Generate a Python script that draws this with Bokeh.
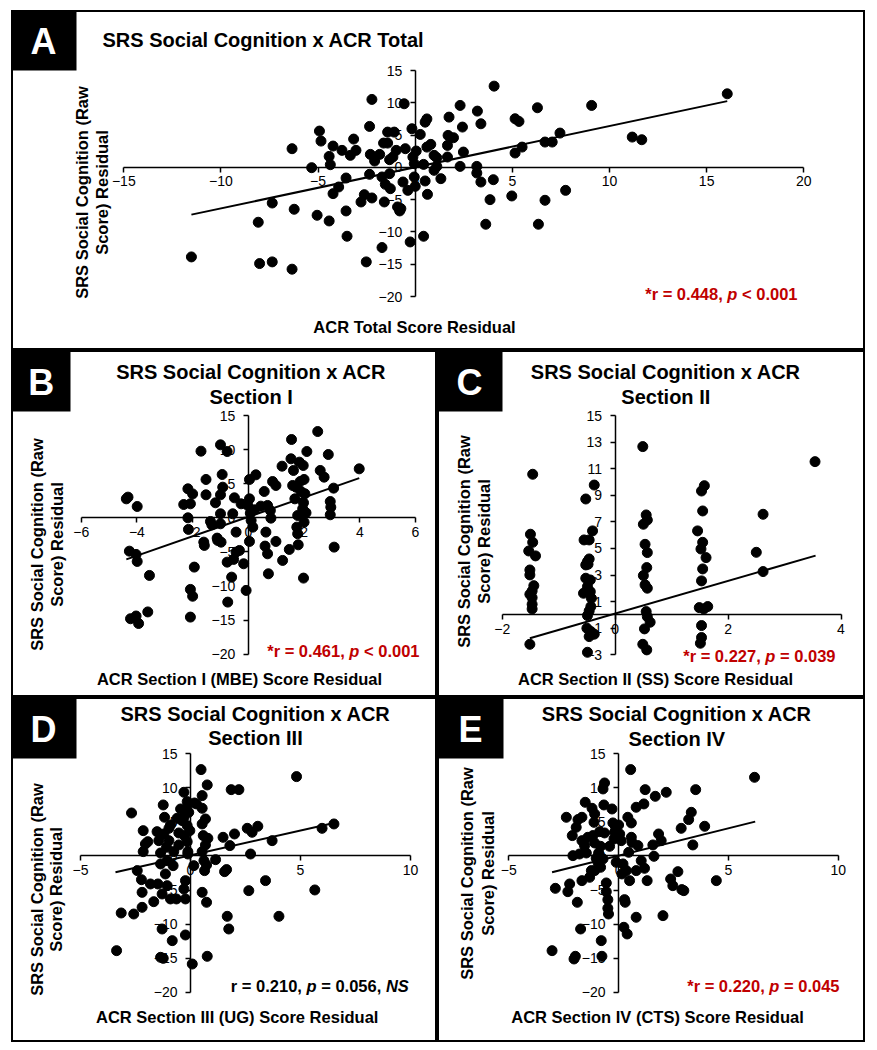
from bokeh.plotting import figure
from bokeh.models import FixedTicker, Label, BoxAnnotation, Spacer, LinearAxis, Range1d
from bokeh.layouts import column, row
from bokeh.embed import file_html
from bokeh.resources import INLINE

FONT = "Liberation Sans"
RED = "#C00000"

# ---------------- data ----------------
a_x = [-11.52, -8.01, -7.36, -6.34, -8.08, -7.36, -6.23, -6.34, -5.33, -4.93, -4.85, -5.05, -4.43, -4.43,
       -4.37, -4.23, -4.23, -3.94, -3.77, -3.56, -3.56, -3.51, -3.34, -3.17, -3.05, -2.79, -2.62, -2.52,
       -2.35, -2.31, -2.35, -2.23, -2.23, -2.09, -1.83, -1.71, -1.71, -1.63, -1.59, -1.54, -1.42, -1.42,
       -1.32, -1.28, -1.32, -1.15, -1.08, -0.98, -0.91, -0.80, -0.74, -0.57, -0.63, -0.51, -0.38, -0.26,
       -0.17, -0.12, -0.05, -0.05, 0.0, 0.05, 0.26, 0.43, 0.43, 0.51, 0.51, 0.6, 0.63, 0.6,
       0.80, 0.97, 0.97, 1.11, 1.11, 1.32, 1.66, 1.66, 1.69, 1.74, 1.97, 2.31, 2.31, 2.43, 2.48, 3.17,
       3.17, 3.2, 3.38, 3.38, 3.63, 3.85, 4.02, 4.06, 4.97, 5.14, 5.14, 5.34, 5.5, 6.29, 6.34, 6.68,
       6.68, 7.05, 7.45, 7.74, 9.08, 11.17, 11.66, 16.06]
a_y = [-13.87, -14.9, -14.64, -15.77, -8.5, -5.52, -6.49, 2.89, -0.05, 5.62, 4.07, -7.42, -8.3, 1.70,
       0.41, 3.3, -4.07, -3.04, 2.63, -1.65, -6.75, -10.67, 1.86, 4.38, 2.63, -5.36, -4.23, -14.64,
       6.34, 2.01, -1.08, 10.52, -4.74, 0.98, 2.01, -1.49, -12.42, 3.76, -5.36, -2.63, 3.76, 5.46,
       1.19, -3.3, -0.98, 1.6, 5.46, 2.63, -6.13, -6.75, -6.39, 9.85, -2.27, 2.89, -3.56, -11.55,
       5.98, 1.6, 0.57, -1.49, -2.94, 2.53, 5.1, -10.67, 0.46, 7.0, -2.11, 3.14, -4.18, 7.5,
       3.56, 1.86, -0.46, 1.49, 0.15, -1.75, 1.6, 3.4, 4.95, 7.78, 4.59, 9.59, 0.15, 6.24, 2.37, 0.15,
       -0.88, 8.71, 6.75, -2.27, -8.81, -5.0, -1.91, 12.58, -4.43, 2.22, 7.53, 7.11, 3.14, 9.23, -8.81, 3.92,
       -5.1, 3.92, 5.31, -3.56, 9.59, 4.69, 4.28, 11.39]
a_trend_x = [-11.52, 16.06]
a_trend_y = [-7.32, 10.26]

b_x = [-4.38, -4.32, -3.99, -4.27, -4.03, -3.99, -3.55, -4.23, -4.03, -3.94, -3.61, -2.32, -2.17, -2.08,
       -2.0, -2.17, -2.15, -1.94, -2.08, -2.0, -2.08, -1.70, -1.6, -1.58, -1.52, -1.52, -1.36, -1.31,
       -1.18, -1.12, -1.1, -1.0, -0.94, -0.92, -1.0, -1.0, -1.0, -0.98, -0.76, -0.76, -0.74, -0.56,
       -0.5, -0.44, -0.6, -0.53, -0.44, -0.32, -0.26, -0.17, -0.08, -0.02, 0.04, 0.04, 0.07, 0.1,
       0.16, 0.04, 0.27, 0.22, 0.45, 0.57, 0.63, 0.6, 0.69, 0.72, 0.69, 0.79, 0.81, 0.87, 0.99, 0.99,
       1.23, 1.21, 1.47, 1.53, 1.55, 1.59, 1.62, 1.67, 1.71, 1.77, 1.74, 1.77, 1.79, 1.83, 1.86, 1.89,
       1.95, 1.97, 2.0, 2.03, 1.98, 2.0, 2.07, 1.98, 2.1, 2.49, 2.58, 2.72, 2.87, 2.94, 2.96, 2.94,
       3.06, 3.08, 3.98]
b_y = [2.78, 3.03, 1.66, -4.89, -5.37, -6.4, -8.45, -14.8, -14.4, -15.5, -13.8, 1.95, 4.25, 2.05,
       3.5, 0.0, -1.7, -7.23, -10.5, -11.5, -14.56, 9.77, -3.57, -4.05, 5.62, 3.37, -0.54, -1.03,
       2.2, -2.98, -3.32, 10.7, 6.35, 4.49, 3.37, 0.59, -0.88, -3.57, 9.72, -6.5, -12.36, 0.59,
       2.93, -2.1, -8.7, -6.1, -5.03, -4.79, 2.05, -6.74, -10.65, 1.81, 2.78, 5.62, 0.68, -0.39,
       -1.37, -3.47, 6.3, 1.17, 1.71, 3.86, -2.1, -4.15, -5.28, -8.21, 1.81, 1.07, -0.05, 5.32, 4.74, -3.47,
       -6.25, 7.57, -4.64, 8.65, 11.48, 4.74, 6.94, 2.78, 4.49, 0.34, -1.37, -2.34, -3.96, 8.16, 5.32, 3.86,
       1.32, 7.67, 5.62, 3.52, 2.2, -0.64, 0.73, -8.84, 9.72, 12.65, 6.94, 5.96, 9.28, 2.39, 1.56, 0.44,
       4.35, -4.3, 7.18]
b_trend_x = [-4.38, 3.98]
b_trend_y = [-6.1, 5.81]

c_x = [-1.46, -1.5, -1.46, -1.53, -1.41, -1.51, -1.51, -1.44, -1.47, -1.51, -1.47, -1.47, -1.47, -1.51,
       -0.52, -0.37, -0.55, -0.46, -0.4, -0.46, -0.49, -0.52, -0.48, -0.52, -0.44, -0.49, -0.56, -0.44,
       -0.42, -0.43, -0.46, -0.49, -0.5, -0.43, -0.37, -0.46, -0.49,
       0.49, 0.55, 0.57, 0.5, 0.53, 0.57, 0.56, 0.5, 0.53, 0.57, 0.55, 0.57, 0.62, 0.52, 0.49, 0.56,
       1.58, 1.53, 1.55, 1.46, 1.55, 1.52, 1.61, 1.55, 1.53, 1.49, 1.57, 1.64, 1.53, 1.53, 1.51,
       2.5, 2.62, 2.62, 3.54]
c_y = [10.58, 6.07, 5.46, 4.81, 4.44, 3.38, 3.01, 2.2, 1.8, 1.55, 1.3, 0.8, 0.45, -2.21,
       8.72, 9.77, 5.64, 5.64, 6.32, 4.21, 4.01, 3.76, 3.81, 2.76, 2.63, 2.13, 1.63, 1.75,
       1.25, 0.63, 0.3, -0.05, -1.0, -1.25, -1.45, -1.63, -2.81,
       12.66, 7.52, 7.14, 6.82, 5.31, 4.69, 3.56, 2.96, 2.26, 2.01, 0.25, -0.13, -0.55, -1.05, -2.21, -2.63,
       9.72, 9.32, 7.82, 6.32, 5.46, 4.96, 4.31, 3.46, 2.56, 0.55, 0.45, 0.63, -0.8, -1.7, -2.13,
       4.71, 7.57, 3.26, 11.53]
c_trend_x = [-1.51, 3.55]
c_trend_y = [-1.75, 4.46]

d_x = [-3.36, -3.15, -2.68, -2.58, -2.42, -2.23, -2.2, -2.2, -2.15, -2.15, -2.05, -1.94, -1.82, -1.67,
       -1.52, -1.48, -1.44, -1.36, -1.36, -1.36, -1.29, -1.24, -1.29, -1.24, -1.21, -1.18, -1.14, -1.09,
       -1.06, -1.06, -0.98, -0.98, -0.91, -0.91, -0.83, -0.79, -0.76, -0.64, -0.61, -0.53, -0.53, -0.45,
       -0.38, -0.3, -0.3, -0.27, -0.23, -0.23, -0.18, -0.15, -0.15, -0.12, -0.3, -0.23, -0.15, -0.08,
       -0.03, -0.12, 0.08, 0.15, 0.18, 0.27, 0.48, 0.53, 0.53, 0.53, 0.53, 0.53, 0.58, 0.61, 0.64, 0.68,
       0.68, 0.76, 0.76, 0.79, 0.73, 0.73, 1.14, 1.48, 1.55, 1.64, 1.67, 1.74, 1.79, 1.85, 2.0, 2.2,
       2.58, 2.65, 2.73, 2.8, 3.06, 3.41, 3.71, 4.02, 4.82, 5.65, 5.98, 6.52]
d_y = [-13.9, -8.37, 6.31, -8.52, -2.15, -3.48, -5.34, -7.54, 3.72, 0.64, 1.76, 2.1, -4.11, -6.71,
       3.57, -4.11, 2.25, 0.44, -1.17, -14.88, -10.72, -15.03, -5.58, 7.49, 3.23, 5.68, -2.64, 1.27,
       -0.69, -4.36, 2.25, 4.06, 4.55, -6.31, -12.43, -1.42, 0.64, -6.31, 5.53, 3.38, 1.62, 6.9,
       5.19, 9.35, 5.68, 2.99, -6.31, -11.6, 6.9, 4.45, 2.1, 0.64, -4.85, -3.62, 7.98, 6.41,
       3.72, 0.29, -15.86, -1.42, 7.78, 7.64, 12.68, 8.86, 7.0, 4.7, 0.64, -5.34, 2.99, -0.69, -2.15, 5.43,
       1.62, -14.73, 10.43, 2.59, -6.8, -1.32, -0.54, 2.74, -2.3, -2.0, -8.86, -10.72, 1.52, 9.74, 3.23, 9.74,
       4.06, -5.09, 0.29, 3.48, 4.36, -3.62, 2.25, -8.86, 11.65, -4.99, 4.06, 4.7]
d_trend_x = [-3.41, 6.52]
d_trend_y = [-2.4, 4.85]

e_x = [-3.03, -2.88, -2.38, -2.31, -2.23, -2.11, -2.08, -2.03, -1.97, -1.93, -1.88, -1.85, -1.78, -1.73,
       -1.67, -1.67, -1.67, -1.55, -1.52, -1.47, -1.4, -1.32, -1.24, -1.21, -1.17, -1.12, -1.09, -1.09,
       -1.09, -1.02, -0.94, -0.91, -0.86, -0.82, -0.82, -0.79, -0.76, -0.71, -0.67, -0.64, -0.71, -0.64,
       -0.56, -0.56, -0.49, -0.49, -0.46, -0.41, -0.3, -0.26, -0.21, -0.18, -0.15, -0.11, 0.0, 0.05,
       0.12, 0.15, 0.2, 0.24, 0.27, 0.3, 0.39, 0.35, 0.42, 0.46, 0.5, 0.55, 0.58, 0.58, 0.61, 0.8,
       0.8, 0.8, 0.88, 1.03, 1.15, 1.18, 1.21, 1.3, 1.56, 1.61, 1.67, 1.82, 1.94, 2.02, 2.17, 2.37,
       2.47, 2.7, 2.85, 2.88, 2.97, 3.19, 3.31, 3.38, 3.51, 3.92, 4.45, 6.19]
e_y = [-13.9, -4.75, 5.68, -5.24, -4.11, 2.99, 0.05, -15.12, -14.73, 4.21, -6.8, 5.34, 0.29, -10.72,
       5.68, -3.62, 2.25, 1.52, 7.88, 0.44, 2.74, -3.13, -2.15, 7.0, 2.99, 4.94, 6.17, -2.15,
       1.91, -0.34, -0.93, 0.44, 3.57, -1.66, 1.42, -12.43, -14.73, 9.84, 7.49, 10.72, -0.44, 3.38,
       -5.24, -3.96, -6.41, -7.68, -8.52, 1.42, 6.9, 4.85, 2.5, 3.48, 4.36, -0.93, 4.55, 3.23,
       2.25, -2.64, -1.17, -10.47, -6.41, -6.8, -11.45, -2.15, 5.68, 0.54, -3.62, 12.68, 2.74, 4.85, 2.0, 7.15,
       -2.15, -9.0, 1.52, -0.69, 7.64, -1.81, 9.74, -3.62, 1.62, -0.05, 8.76, 3.23, 2.25, -8.76, 9.35, -3.38,
       -4.36, -2.3, 4.06, -4.94, -5.09, 5.34, 6.41, 1.62, 9.74, 4.36, -3.62, 11.55]
e_trend_x = [-3.03, 6.22]
e_trend_y = [-2.4, 5.04]

ticks_5 = [-20, -15, -10, -5, 0, 5, 10, 15]
a_xticks = [-15, -10, -5, 0, 5, 10, 15, 20]
b_xticks = [-6, -4, -2, 0, 2, 4, 6]
c_xticks = [-2, 0, 2, 4]
c_yticks = [-3, -1, 1, 3, 5, 7, 9, 11, 13, 15]
de_xticks = [-5, 0, 5, 10]

YLAB = ["SRS Social Cognition (Raw", "Score) Residual"]

# Arial-Bold advance widths (per 1000 em) for the stat annotations
AW = {' ': 278, '*': 389, 'r': 389, '=': 584, '.': 278, ',': 278, 'p': 611, '<': 584, 'N': 722, 'S': 667}
for _d in '0123456789':
    AW[_d] = 556


def tw(s, size):
    return sum(AW.get(c, 556) for c in s) * size / 1000.0


def txt(p, H, x, y_top, text, size, color="black", bold=True, italic=False,
        align="left", baseline="middle", angle=0):
    if bold and italic:
        style = "bold italic"
    elif bold:
        style = "bold"
    elif italic:
        style = "italic"
    else:
        style = "normal"
    p.add_layout(Label(x=x, y=H - y_top, x_units="screen", y_units="screen", text=text,
                       text_font=FONT, text_font_size=f"{size}px", text_font_style=style,
                       text_color=color, text_align=align, text_baseline=baseline,
                       angle=angle, angle_units="deg"))


def annot(p, H, right, y, segs, color, size=16.5):
    total = sum(tw(s, size) for s, _ in segs)
    x = right - total
    for s, it in segs:
        lead = len(s) - len(s.lstrip(' '))
        txt(p, H, x + tw(' ' * lead, size), y, s.strip(' '), size, color=color, italic=it)
        x += tw(s, size)


def panel(W, H, xb, yb, pxx, pxy, xticks, yticks, xs, ys, tx, ty, letter, box, letter_c,
          titles, title_x, title_ys, title_align, ylab_x, ylab_y, xlab, xlab_c, segs, seg_color,
          seg_right, seg_y):
    sx = (pxx[1] - pxx[0]) / (xb[1] - xb[0])
    x0 = xb[0] - pxx[0] / sx
    x1 = xb[1] + (W - pxx[1]) / sx
    sy = (pxy[1] - pxy[0]) / (yb[1] - yb[0])
    y1 = yb[1] + pxy[0] / sy
    y0 = yb[0] - (H - pxy[1]) / sy
    p = figure(width=W, height=H, x_range=Range1d(x0, x1), y_range=Range1d(y0, y1),
               output_backend="svg", toolbar_location=None, min_border=0,
               x_axis_location=None, y_axis_location=None)
    p.title.visible = False
    p.grid.visible = False
    p.outline_line_color = "black"
    p.outline_line_width = 3
    p.background_fill_color = "white"
    p.border_fill_color = "white"

    xa = LinearAxis(fixed_location=0, bounds=tuple(xb), ticker=FixedTicker(ticks=xticks))
    ya = LinearAxis(fixed_location=0, bounds=tuple(yb), ticker=FixedTicker(ticks=yticks))
    for ax, so in ((xa, 4), (ya, 8)):
        ax.axis_line_color = "black"
        ax.axis_line_width = 1.5
        ax.major_tick_line_color = "black"
        ax.major_tick_line_width = 1.5
        ax.major_tick_in = 0
        ax.major_tick_out = 5
        ax.minor_tick_line_color = None
        ax.major_label_text_font = FONT
        ax.major_label_text_font_size = "14px"
        ax.major_label_text_color = "black"
        ax.major_label_standoff = so
        ax.level = "underlay"
    p.add_layout(xa, "below")
    p.add_layout(ya, "left")

    p.line(tx, ty, line_color="black", line_width=2)
    p.scatter(xs, ys, size=10, fill_color="black", line_color="black")

    p.add_layout(BoxAnnotation(left=box[0], right=box[1], top=H - box[2], bottom=H - box[3],
                               left_units="screen", right_units="screen",
                               top_units="screen", bottom_units="screen",
                               fill_color="black", fill_alpha=1.0, line_color=None))
    txt(p, H, letter_c[0], letter_c[1], letter, 36, color="white", align="center")
    for t, yy in zip(titles, title_ys):
        txt(p, H, title_x, yy, t, 20, align=title_align)
    for t, xx in zip(YLAB, ylab_x):
        txt(p, H, xx, ylab_y, t, 16.5, align="center", angle=90)
    txt(p, H, xlab_c[0], xlab_c[1], xlab, 16.5, align="center")
    annot(p, H, seg_right, seg_y, segs, seg_color)
    return p


pA = panel(854, 340, [-15, 20], [-20, 15], (112.3, 792.3), (60, 286), a_xticks, ticks_5,
           a_x, a_y, a_trend_x, a_trend_y, "A", (0, 65, 0, 60), (32, 31),
           ["SRS Social Cognition x ACR Total"], 91, [29.5], "left",
           (70, 90), 182, "ACR Total Score Residual", (403, 316),
           [("*r = 0.448, ", False), ("p", True), (" < 0.001", False)], RED, 786, 283)

pB = panel(426, 347, [-6, 6], [-20, 15], (69.7, 404), (65, 303.7), b_xticks, ticks_5,
           b_x, b_y, b_trend_x, b_trend_y, "B", (0, 59, 0, 61), (29.7, 32),
           ["SRS Social Cognition x ACR", "Section I"], 239.7, [21.7, 46], "center",
           (25.7, 45.7), 194, "ACR Section I (MBE) Score Residual", (228, 328),
           [("*r = 0.461, ", False), ("p", True), (" < 0.001", False)], RED, 408, 300)

pC = panel(428, 347, [-2, 4], [-3, 15], (64.7, 403.5), (65, 304.3), c_xticks, c_yticks,
           c_x, c_y, c_trend_x, c_trend_y, "C", (0, 65, 0, 61), (32, 32),
           ["SRS Social Cognition x ACR", "Section II"], 228.3, [21.7, 46], "center",
           (26, 46), 191, "ACR Section II (SS) Score Residual", (218, 328),
           [("*r = 0.227, ", False), ("p", True), (" = 0.039", False)], RED, 398, 305)

pD = panel(426, 345, [-5, 10], [-20, 15], (69, 399), (56.3, 294.7), de_xticks, ticks_5,
           d_x, d_y, d_trend_x, d_trend_y, "D", (0, 65, 0, 61), (32, 31.5),
           ["SRS Social Cognition x ACR", "Section III"], 244, [16.3, 40.7], "center",
           (25.7, 44), 192, "ACR Section III (UG) Score Residual", (225.7, 319.7),
           [("r = 0.210, ", False), ("p", True), (" = 0.056, ", False), ("NS", True)], "black",
           397.3, 288)

pE = panel(428, 345, [-5, 10], [-20, 15], (71.3, 400.7), (56.3, 294.7), de_xticks, ticks_5,
           e_x, e_y, e_trend_x, e_trend_y, "E", (0, 66, 0, 61), (33, 31.5),
           ["SRS Social Cognition x ACR", "Section IV"], 239.3, [16.3, 41.3], "center",
           (29.3, 50), 176, "ACR Section IV (CTS) Score Residual", (220, 319.7),
           [("*r = 0.220, ", False), ("p", True), (" = 0.045", False)], RED, 402, 288)

layout = column(Spacer(height=10),
                row(Spacer(width=11), column(pA, row(pB, pC), row(pD, pE))))

open("out.html", "w").write(file_html(layout, INLINE))
